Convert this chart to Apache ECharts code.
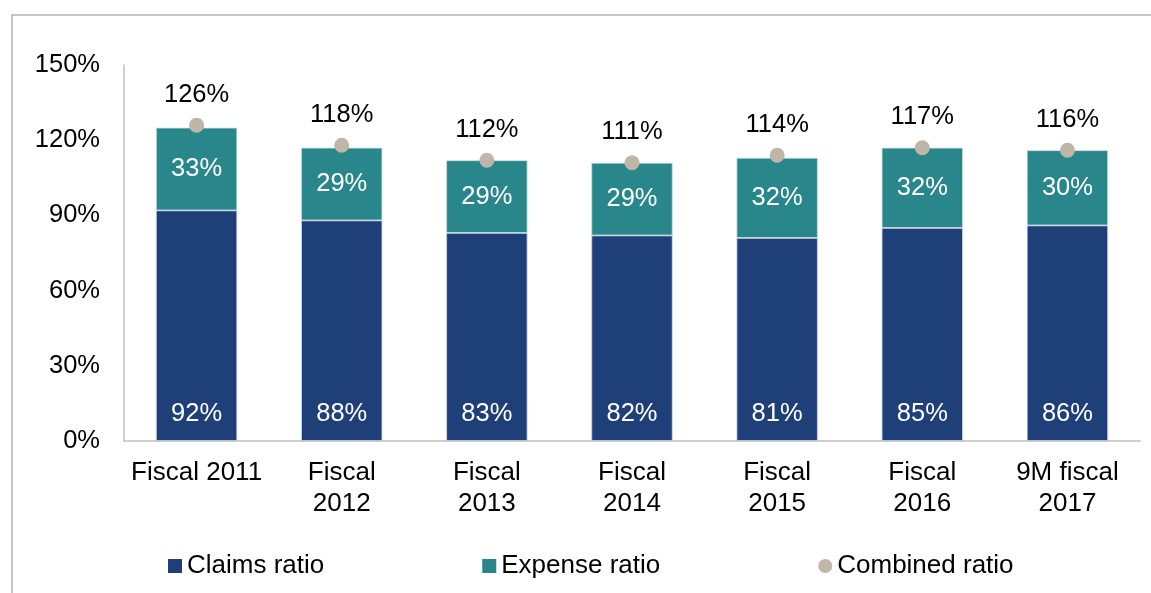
<!DOCTYPE html>
<html>
<head>
<meta charset="utf-8">
<script src="https://cdn.jsdelivr.net/npm/echarts@6/dist/echarts.min.js"></script>
<style>
  html, body { margin: 0; padding: 0; background: #ffffff; }
  #chart { width: 1151px; height: 593px; }
</style>
</head>
<body>
<div id="chart"></div>
<script>
// Underwriting ratios by fiscal period
const categories = ['Fiscal 2011', 'Fiscal\n2012', 'Fiscal\n2013', 'Fiscal\n2014', 'Fiscal\n2015', 'Fiscal\n2016', '9M fiscal\n2017'];
const claimsRatio = [92, 88, 83, 82, 81, 85, 86];
const expenseRatio = [33, 29, 29, 29, 32, 32, 30];
const combinedRatio = [126, 118, 112, 111, 114, 117, 116];
const yTicks = { min: 0, max: 150, interval: 30 };

const FONT = '"Liberation Sans", Arial, sans-serif';
const pct = p => p.value + '%';

const chart = echarts.init(document.getElementById('chart'), null, { renderer: 'canvas' });

chart.setOption({
  animation: false,
  backgroundColor: '#ffffff',
  textStyle: { fontFamily: FONT },
  graphic: [{
    type: 'rect',
    silent: true,
    shape: { x: 12, y: 15, width: 1300, height: 700 },
    style: { fill: 'none', stroke: '#b3b3b3', lineWidth: 1.5 }
  }],
  grid: { left: 124, right: 11, top: 65, bottom: 152, containLabel: false },
  legend: {
    left: 168,
    top: 553,
    padding: 0,
    itemWidth: 14,
    itemHeight: 14,
    itemGap: 158,
    itemStyle: { borderWidth: 0 },
    textStyle: { fontFamily: FONT, fontSize: 26, color: '#000000' },
    data: [
      { name: 'Claims ratio', icon: 'rect' },
      { name: 'Expense ratio', icon: 'rect' },
      { name: 'Combined ratio', icon: 'circle' }
    ]
  },
  xAxis: {
    type: 'category',
    data: categories,
    axisLine: { show: true, lineStyle: { color: '#bfbfbf', width: 1.5 } },
    axisTick: { show: false },
    axisLabel: {
      fontFamily: FONT, fontSize: 26, color: '#000000',
      margin: 16, lineHeight: 31, interval: 0
    }
  },
  yAxis: {
    type: 'value',
    min: yTicks.min,
    max: yTicks.max,
    interval: yTicks.interval,
    axisLine: { show: true, lineStyle: { color: '#bfbfbf', width: 1.5 } },
    axisTick: { show: false },
    splitLine: { show: false },
    axisLabel: {
      fontFamily: FONT, fontSize: 25.5, color: '#000000', margin: 24,
      formatter: v => v + '%'
    }
  },
  series: [
    {
      name: 'Claims ratio',
      type: 'bar',
      stack: 'ratio',
      barWidth: '56%',
      data: claimsRatio,
      itemStyle: { color: '#1e3f78', borderColor: '#c9d6e3', borderWidth: 0.8 },
      label: {
        show: true, position: 'insideBottom', distance: 14,
        fontFamily: FONT, fontSize: 25.5, color: '#ffffff', formatter: pct
      }
    },
    {
      name: 'Expense ratio',
      type: 'bar',
      stack: 'ratio',
      barWidth: '56%',
      data: expenseRatio,
      itemStyle: { color: '#29868a', borderColor: '#c9dfe0', borderWidth: 0.8 },
      label: {
        show: true, position: 'inside',
        fontFamily: FONT, fontSize: 25.5, color: '#ffffff', formatter: pct
      }
    },
    {
      name: 'Combined ratio',
      type: 'scatter',
      data: combinedRatio,
      symbol: 'circle',
      symbolSize: 15,
      itemStyle: { color: '#bfb6a8', opacity: 1 },
      z: 5,
      label: {
        show: true, position: 'top', distance: 10,
        fontFamily: FONT, fontSize: 25.5, color: '#000000', formatter: pct
      }
    }
  ]
});
</script>
</body>
</html>
